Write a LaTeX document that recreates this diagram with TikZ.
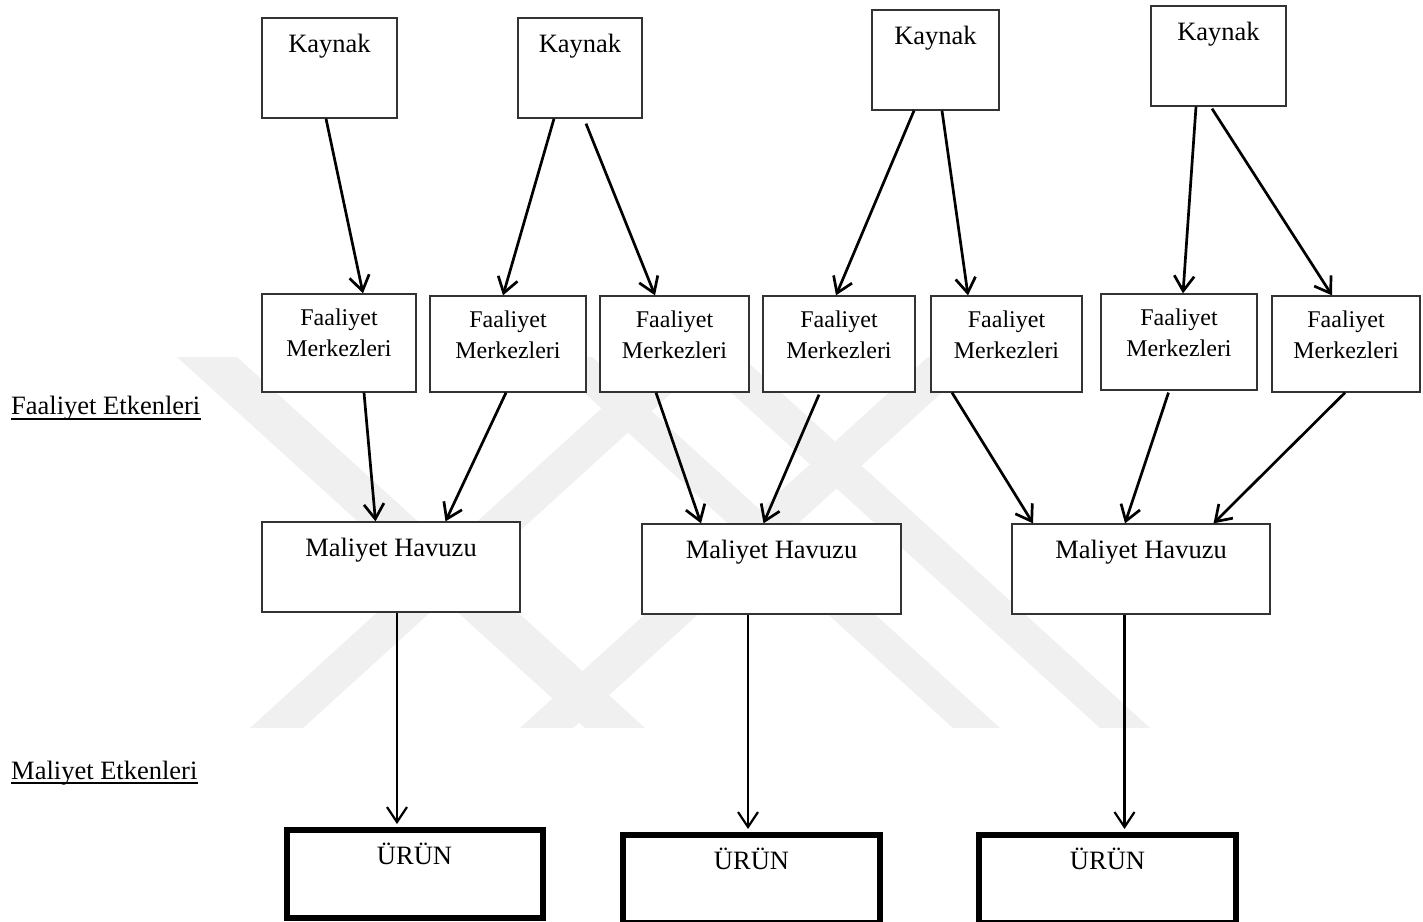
\documentclass[tikz,border=0pt]{standalone}
\usepackage{fontspec}
\setmainfont{Liberation Serif}
\usetikzlibrary{arrows.meta}
\tikzset{
  box/.style={draw=black!80, line width=1.3pt, inner sep=0pt, fill=white},
  prodbox/.style={draw=black, line width=6pt, inner sep=0pt, fill=white},
  bigtxt/.style={anchor=base, inner sep=0pt, font=\fontsize{26.5}{30}\selectfont},
  fmtxt/.style={anchor=north, inner sep=0pt, align=center, font=\fontsize{24}{31.6}\selectfont},
  arr/.style={line width=2.7pt, -{Straight Barb[length=15pt,width=20pt]}},
  arrb/.style={line width=2.2pt, -{Straight Barb[length=15pt,width=20pt]}},
  uline/.style={line width=1.6pt},
  wm/.style={fill=black!6, draw=none}
}
\begin{document}
\begin{tikzpicture}[x=1pt,y=-1pt]
\useasboundingbox[fill=white] (0,0) rectangle (1423,921);
% watermark (faint background logo)
\fill[wm] (177,357) -- (237,357) -- (645,728) -- (585,728) -- cycle;
\fill[wm] (250,728) -- (303,728) -- (711,357) -- (658,357) -- cycle;
\fill[wm] (520,728) -- (573,728) -- (981,357) -- (928,357) -- cycle;
\fill[wm] (545,357) -- (592,357) -- (1000,728) -- (953,728) -- cycle;
\fill[wm] (692,357) -- (742,357) -- (1150,728) -- (1100,728) -- cycle;

% Kaynak boxes
\node[box, minimum width=135pt, minimum height=100pt] (k1) at (329.5,68) {};
\node[box, minimum width=124pt, minimum height=100pt] (k2) at (580,68) {};
\node[box, minimum width=127pt, minimum height=100pt] (k3) at (935.5,60) {};
\node[box, minimum width=135pt, minimum height=100pt] (k4) at (1218.5,56) {};
\node[bigtxt] (k1t) at ([yshift=-35pt]k1.north) {Kaynak};
\node[bigtxt] (k2t) at ([yshift=-35pt]k2.north) {Kaynak};
\node[bigtxt] (k3t) at ([yshift=-35pt]k3.north) {Kaynak};
\node[bigtxt] (k4t) at ([yshift=-35pt]k4.north) {Kaynak};

% Faaliyet Merkezleri boxes
\node[box, minimum width=154pt, minimum height=98pt] (f1) at (339,343) {};
\node[box, minimum width=156pt, minimum height=96pt] (f2) at (508,344) {};
\node[box, minimum width=149pt, minimum height=96pt] (f3) at (674.5,344) {};
\node[box, minimum width=152pt, minimum height=96pt] (f4) at (839,344) {};
\node[box, minimum width=151pt, minimum height=96pt] (f5) at (1006.5,344) {};
\node[box, minimum width=156pt, minimum height=96pt] (f6) at (1179,342) {};
\node[box, minimum width=148pt, minimum height=96pt] (f7) at (1346,344) {};
\foreach \n in {f1,f2,f3,f4,f5,f6,f7}{
  \node[fmtxt] (\n t) at ([yshift=-15pt]\n.north) {Faaliyet\\Merkezleri};
}

% Maliyet Havuzu boxes
\node[box, minimum width=258pt, minimum height=90pt] (m1) at (391,567) {};
\node[box, minimum width=259pt, minimum height=90pt] (m2) at (771.5,569) {};
\node[box, minimum width=258pt, minimum height=90pt] (m3) at (1141,569) {};
\node[bigtxt] (m1t) at ([yshift=-35pt]m1.north) {Maliyet Havuzu};
\node[bigtxt] (m2t) at ([yshift=-35pt]m2.north) {Maliyet Havuzu};
\node[bigtxt] (m3t) at ([yshift=-35pt]m3.north) {Maliyet Havuzu};

% URUN boxes
\node[prodbox, minimum width=256pt, minimum height=88pt] (u1) at (414.5,874) {};
\node[prodbox, minimum width=257pt, minimum height=88pt] (u2) at (751.5,879) {};
\node[prodbox, minimum width=257pt, minimum height=88pt] (u3) at (1107.5,879) {};
\node[bigtxt] (u1t) at ([yshift=-37pt]u1.north) {ÜRÜN};
\node[bigtxt] (u2t) at ([yshift=-37pt]u2.north) {ÜRÜN};
\node[bigtxt] (u3t) at ([yshift=-37pt]u3.north) {ÜRÜN};

% side labels
\node[bigtxt, anchor=base west] (lab1) at (11,414) {Faaliyet Etkenleri};
\node[bigtxt, anchor=base west] (lab2) at (11,779) {Maliyet Etkenleri};
\draw[uline] ([yshift=-5pt]lab1.base west) -- ([yshift=-5pt]lab1.base east);
\draw[uline] ([yshift=-4pt]lab2.base west) -- ([yshift=-4pt]lab2.base east);

% Kaynak -> Faaliyet Merkezleri
\draw[arr] ([xshift=-3.5pt]k1.south) -- ([xshift=24pt]f1.north);
\draw[arr] ([xshift=-26pt]k2.south) -- ([xshift=-5pt]f2.north);
\draw[arr] ([xshift=6pt,yshift=-5pt]k2.south) -- ([xshift=-19.5pt]f3.north);
\draw[arr] ([xshift=-21.5pt]k3.south) -- ([xshift=-3pt]f4.north);
\draw[arr] ([xshift=6.5pt]k3.south) -- ([xshift=-38.5pt]f5.north);
\draw[arr] ([xshift=-22.5pt]k4.south) -- ([xshift=4pt]f6.north);
\draw[arr] ([xshift=-6.5pt,yshift=-2pt]k4.south) -- ([xshift=-14pt]f7.north);

% Faaliyet Merkezleri -> Maliyet Havuzu
\draw[arr] ([xshift=25pt]f1.south) -- ([xshift=-15.5pt]m1.north);
\draw[arr] ([xshift=-2pt]f2.south) -- ([xshift=54.5pt]m1.north);
\draw[arr] ([xshift=-18.5pt]f3.south) -- ([xshift=-70.5pt]m2.north);
\draw[arr] ([xshift=-20pt,yshift=-2pt]f4.south) -- ([xshift=-8pt]m2.north);
\draw[arr] ([xshift=-54.5pt]f5.south) -- ([xshift=-108pt]m3.north);
\draw[arr] ([xshift=-10.5pt,yshift=-2pt]f6.south) -- ([xshift=-16pt]m3.north);
\draw[arr] ([xshift=-1pt]f7.south) -- ([xshift=72.5pt]m3.north);

% Maliyet Havuzu -> URUN
\draw[arrb] ([xshift=6pt]m1.south) -- ([xshift=6pt,yshift=3pt]m1.south |- u1.north);
\draw[arrb] ([xshift=-23.5pt]m2.south) -- ([xshift=-23.5pt,yshift=3pt]m2.south |- u2.north);
\draw[arrb] ([xshift=-16.5pt]m3.south) -- ([xshift=-16.5pt,yshift=3pt]m3.south |- u3.north);
\end{tikzpicture}
\end{document}
